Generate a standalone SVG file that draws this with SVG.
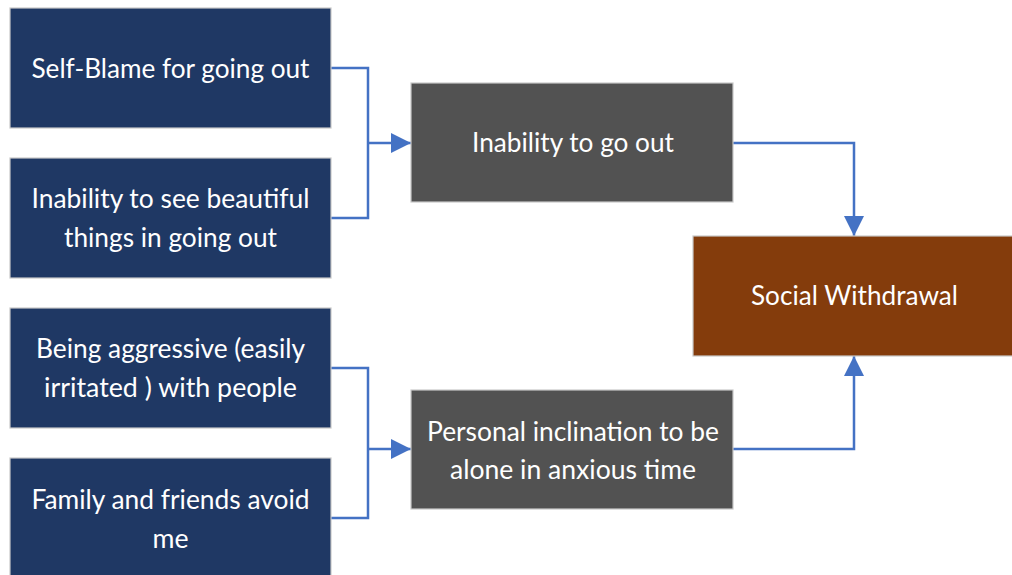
<svg xmlns="http://www.w3.org/2000/svg" width="1012" height="575" viewBox="0 0 1012 575">
  <style>
    .box { stroke: #c8c8c8; stroke-width: 1.2; }
    .navy { fill: #1f3864; }
    .grey { fill: #525252; }
    .brown { fill: #843c0c; }
    .lbl { font-family: Lato, "Open Sans", "Liberation Sans", sans-serif; font-size: 27px; fill: #ffffff; text-anchor: middle; }
    .wire { fill: none; stroke: #4472c4; stroke-width: 2.5; }
  </style>
  <defs>
    <marker id="arrow" viewBox="0 0 10 10" refX="10" refY="5" markerUnits="userSpaceOnUse" markerWidth="20" markerHeight="22" orient="auto">
      <path d="M0,0 L10,5 L0,10 Z" fill="#4472c4"/>
    </marker>
  </defs>
  <rect width="1012" height="575" fill="#ffffff"/>

  <!-- connectors -->
  <g id="connectors">
    <path class="wire" d="M331,68 H368 V218 H331"/>
    <path class="wire" d="M368,143 H411" marker-end="url(#arrow)"/>
    <path class="wire" d="M331,368 H368 V518 H331"/>
    <path class="wire" d="M368,449 H411" marker-end="url(#arrow)"/>
    <path class="wire" d="M733,143 H854 V236" marker-end="url(#arrow)"/>
    <path class="wire" d="M733,449 H854 V356" marker-end="url(#arrow)"/>
  </g>

  <!-- causes -->
  <g id="self-blame">
    <rect class="box navy" x="10" y="8" width="321" height="120"/>
    <text class="lbl" x="170.5" y="77.5" textLength="278" lengthAdjust="spacingAndGlyphs">Self-Blame for going out</text>
  </g>
  <g id="no-beauty">
    <rect class="box navy" x="10" y="158" width="321" height="120"/>
    <text class="lbl" x="170.5" y="208" textLength="278" lengthAdjust="spacingAndGlyphs">Inability to see beautiful</text>
    <text class="lbl" x="170.5" y="246.5" textLength="213" lengthAdjust="spacingAndGlyphs">things in going out</text>
  </g>
  <g id="aggressive">
    <rect class="box navy" x="10" y="308" width="321" height="120"/>
    <text class="lbl" x="170.5" y="358" textLength="269" lengthAdjust="spacingAndGlyphs">Being aggressive (easily</text>
    <text class="lbl" x="170.5" y="397" textLength="253" lengthAdjust="spacingAndGlyphs">irritated ) with people</text>
  </g>
  <g id="avoided">
    <rect class="box navy" x="10" y="458" width="321" height="125"/>
    <text class="lbl" x="170.5" y="509" textLength="278" lengthAdjust="spacingAndGlyphs">Family and friends avoid</text>
    <text class="lbl" x="170.5" y="547.5" textLength="36" lengthAdjust="spacingAndGlyphs">me</text>
  </g>

  <!-- intermediate states -->
  <g id="cannot-go-out">
    <rect class="box grey" x="411" y="83" width="322" height="119"/>
    <text class="lbl" x="573" y="152" textLength="202" lengthAdjust="spacingAndGlyphs">Inability to go out</text>
  </g>
  <g id="alone">
    <rect class="box grey" x="411" y="390" width="322" height="119"/>
    <text class="lbl" x="573" y="441" textLength="292" lengthAdjust="spacingAndGlyphs">Personal inclination to be</text>
    <text class="lbl" x="573" y="479" textLength="246" lengthAdjust="spacingAndGlyphs">alone in anxious time</text>
  </g>

  <!-- outcome -->
  <g id="withdrawal">
    <rect class="box brown" x="693" y="236" width="330" height="120"/>
    <text class="lbl" x="854.5" y="305" textLength="207" lengthAdjust="spacingAndGlyphs">Social Withdrawal</text>
  </g>
</svg>
